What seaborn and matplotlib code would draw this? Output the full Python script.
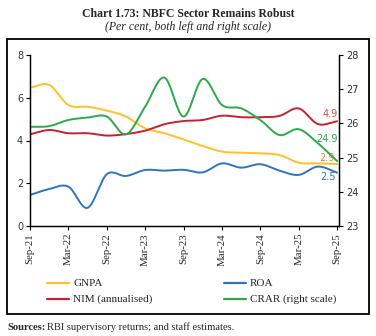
import numpy as np
import matplotlib
matplotlib.use("Agg")
import matplotlib.pyplot as plt
from matplotlib.lines import Line2D
from matplotlib.patches import Rectangle
import seaborn as sns

# Quarterly observations, Sep-21 to Sep-25
quarters = ["Sep-21", "Dec-21", "Mar-22", "Jun-22", "Sep-22", "Dec-22", "Mar-23",
            "Jun-23", "Sep-23", "Dec-23", "Mar-24", "Jun-24", "Sep-24", "Dec-24",
            "Mar-25", "Jun-25", "Sep-25"]
gnpa = [6.47, 6.6, 5.66, 5.58, 5.4, 5.12, 4.57, 4.34, 4.05, 3.74, 3.48, 3.43, 3.4,
        3.32, 2.96, 2.93, 2.9]
roa = [1.45, 1.73, 1.84, 0.85, 2.42, 2.34, 2.62, 2.59, 2.63, 2.51, 2.93, 2.73, 2.89,
       2.59, 2.39, 2.78, 2.5]
nim = [4.29, 4.49, 4.34, 4.34, 4.23, 4.3, 4.46, 4.76, 4.91, 4.96, 5.16, 5.09, 5.09,
       5.15, 5.5, 4.77, 4.9]
crar = [25.9, 25.92, 26.1, 26.17, 26.2, 25.68, 26.49, 27.34, 26.2, 27.3, 26.54, 26.44,
        26.1, 25.66, 25.83, 25.42, 24.9]

left_ticks = [0, 2, 4, 6, 8]
right_ticks = [23, 24, 25, 26, 27, 28]

C_GNPA = "#FFC125"
C_ROA = "#2E75C0"
C_NIM = "#C8202F"
C_CRAR = "#2AAA4A"

sns.set_theme(style="white")
plt.rcParams["font.family"] = ["Liberation Serif", "DejaVu Serif"]


def smooth(y, n=20):
    """Catmull-Rom curve through the quarterly points (Excel-style smoothed line)."""
    y = np.asarray(y, float)
    x = np.arange(len(y), dtype=float)
    P = np.concatenate([[2 * y[0] - y[1]], y, [2 * y[-1] - y[-2]]])
    xs, ys = [], []
    t = np.linspace(0, 1, n, endpoint=False)
    for i in range(len(y) - 1):
        p0, p1, p2, p3 = P[i], P[i + 1], P[i + 2], P[i + 3]
        seg = 0.5 * ((2 * p1) + (-p0 + p2) * t + (2 * p0 - 5 * p1 + 4 * p2 - p3) * t ** 2
                     + (-p0 + 3 * p1 - 3 * p2 + p3) * t ** 3)
        xs.append(x[i] + t)
        ys.append(seg)
    xs.append([x[-1]])
    ys.append([y[-1]])
    return np.concatenate(xs), np.concatenate(ys)


fig = plt.figure(figsize=(3.76, 3.36), dpi=100)
ax = fig.add_axes([30 / 376, 1 - 226 / 336, 309 / 376, 171 / 336])
ax2 = ax.twinx()

for vals, col in [(gnpa, C_GNPA), (nim, C_NIM), (roa, C_ROA)]:
    sx, sy = smooth(vals)
    sns.lineplot(x=sx, y=sy, ax=ax, color=col, linewidth=1.4, sort=False)
sx, sy = smooth(crar)
sns.lineplot(x=sx, y=sy, ax=ax2, color=C_CRAR, linewidth=1.4, sort=False)

ax.set_xlim(0, 16.1)
ax.set_ylim(0, 8)
ax2.set_ylim(23, 28)
ax.set_yticks(left_ticks)
ax2.set_yticks(right_ticks)
ax.set_xticks(range(0, len(quarters), 2))
ax.set_xticklabels(quarters[::2], rotation=90, fontsize=7.8)
tick_font = {"family": ["DejaVu Sans"], "size": 7}
ax.set_yticklabels([str(v) for v in left_ticks], fontdict=tick_font, color="#333333")
ax2.set_yticklabels([str(v) for v in right_ticks], fontdict=tick_font, color="#333333")

for a in (ax, ax2):
    a.spines["top"].set_visible(False)
    for s in ("left", "right", "bottom"):
        a.spines[s].set_color("black")
        a.spines[s].set_linewidth(0.9)
    a.grid(False)
ax.tick_params(axis="both", direction="out", length=3, width=0.8, color="black", pad=2,
               left=True, bottom=True)
ax2.tick_params(axis="y", direction="out", length=3, width=0.8, color="black", pad=2,
                right=True)
ax.set_xlabel("")
ax.set_ylabel("")
ax2.set_ylabel("")

# End-of-series value labels
lab_font = ["DejaVu Sans"]
ax.text(16.05, nim[-1] + 0.33, f"{nim[-1]:.1f}", color="#E04A3F", fontsize=7,
        family=lab_font, ha="right", va="center")
ax2.text(16.05, crar[-1] + 0.64, f"{crar[-1]:.1f}", color=C_CRAR, fontsize=7,
         family=lab_font, ha="right", va="center")
ax.text(15.85, gnpa[-1] + 0.28, f"{gnpa[-1]:.1f}", color="#F08A24", fontsize=7,
        family=lab_font, ha="right", va="center")
ax.text(15.95, roa[-1] - 0.21, f"{roa[-1]:.1f}", color=C_ROA, fontsize=7,
        family=lab_font, ha="right", va="center")

# Titles
fig.text(0.5, 1 - 14 / 336, "Chart 1.73: NBFC Sector Remains Robust", ha="center",
         va="center", fontsize=8.5, fontweight="bold")
fig.text(0.5, 1 - 27 / 336, "(Per cent, both left and right scale)", ha="center",
         va="center", fontsize=8.5, style="italic")

# Outer frame around the chart
fig.patches.append(Rectangle((7 / 376, 1 - 314 / 336), 362 / 376, 275 / 336,
                             transform=fig.transFigure, fill=False, edgecolor="black",
                             linewidth=1.3))

# Legend
legend_items = [("GNPA", C_GNPA, 47, 283), ("NIM (annualised)", C_NIM, 47, 299),
                ("ROA", C_ROA, 224, 283), ("CRAR (right scale)", C_CRAR, 224, 299)]
for name, col, xp, yp in legend_items:
    fig.add_artist(Line2D([xp / 376, (xp + 22) / 376], [1 - yp / 336, 1 - yp / 336],
                          transform=fig.transFigure, color=col, linewidth=1.6))
    fig.text((xp + 26) / 376, 1 - yp / 336, name, ha="left", va="center", fontsize=8)

# Source note
fig.text(7 / 376, 1 - 327 / 336, "Sources:", ha="left", va="center", fontsize=7.6,
         fontweight="bold")
fig.text(47 / 376, 1 - 327 / 336, "RBI supervisory returns; and staff estimates.",
         ha="left", va="center", fontsize=7.6)

fig.savefig("out.png", dpi=100)
